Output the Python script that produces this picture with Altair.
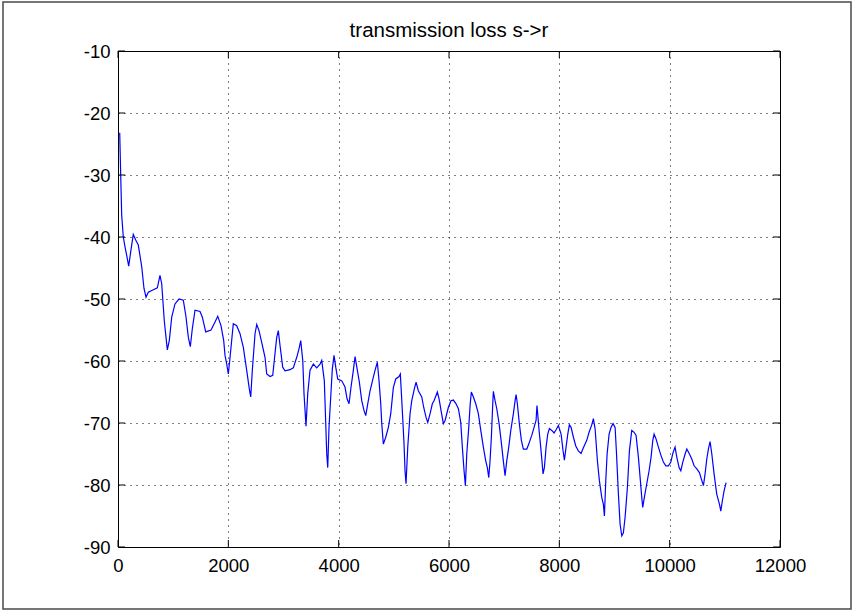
import altair as alt
import pandas as pd

distance = [31,49,67,96,127,163,194,230,277,321,
            368,430,471,508,549,640,713,761,792,839,
            894,930,974,1033,1106,1184,1233,1275,1311,1347,
            1396,1487,1528,1590,1686,1759,1808,1867,1916,1940,
            1971,2000,2031,2090,2152,2212,2272,2333,2380,2406,
            2435,2484,2515,2556,2605,2665,2696,2756,2805,2846,
            2877,2906,2937,2986,3028,3118,3178,3240,3282,3312,
            3349,3372,3408,3439,3481,3541,3602,3662,3693,3740,
            3784,3802,3825,3856,3885,3916,3947,3983,4056,4115,
            4152,4188,4224,4266,4297,4339,4375,4418,4460,4491,
            4527,4569,4629,4659,4701,4732,4763,4781,4810,4853,
            4901,4944,4991,5035,5095,5118,5154,5185,5203,5221,
            5252,5294,5325,5372,5403,5444,5506,5542,5584,5615,
            5657,5698,5729,5789,5820,5856,5898,5929,5988,6037,
            6079,6128,6170,6213,6242,6273,6297,6322,6358,6382,
            6405,6442,6485,6532,6576,6623,6666,6695,6721,6744,
            6768,6793,6804,6835,6866,6908,6944,6985,7016,7047,
            7083,7120,7167,7198,7216,7239,7275,7312,7348,7410,
            7446,7500,7542,7578,7595,7633,7669,7705,7729,7760,
            7790,7820,7863,7905,7941,7983,8032,8068,8092,8122,
            8153,8182,8213,8255,8298,8345,8394,8436,8497,8539,
            8588,8617,8648,8690,8726,8769,8798,8817,8842,8866,
            8902,8938,8974,9011,9034,9071,9101,9132,9161,9192,
            9234,9270,9313,9355,9391,9433,9469,9494,9512,9541,
            9585,9627,9663,9694,9718,9754,9796,9845,9886,9930,
            9977,10021,10057,10098,10129,10171,10202,10238,10280,10311,
            10358,10401,10443,10492,10539,10583,10612,10642,10673,10702,
            10733,10764,10805,10854,10902,10927,10956,10987,11023]

loss = [-23.2,-30.0,-36.5,-40.0,-41.6,-43.2,-44.7,-42.4,-39.6,-40.5,
        -41.3,-44.8,-48.3,-49.7,-48.9,-48.5,-48.2,-46.2,-47.5,-53.5,
        -58.2,-56.7,-52.9,-50.8,-50.0,-50.2,-52.9,-56.2,-57.7,-54.8,
        -51.8,-52.0,-52.9,-55.3,-55.0,-53.7,-52.8,-54.3,-56.7,-59.1,
        -60.5,-62.1,-59.4,-54.0,-54.3,-55.6,-57.8,-61.5,-64.5,-65.8,
        -61.5,-55.6,-54.1,-55.1,-57.0,-59.4,-62.1,-62.5,-62.3,-58.8,
        -56.2,-55.1,-57.5,-61.0,-61.6,-61.4,-61.1,-59.4,-58.0,-56.7,
        -59.9,-65.3,-70.5,-65.3,-61.5,-60.5,-61.1,-60.5,-59.9,-63.2,
        -75.0,-77.2,-70.7,-65.8,-61.3,-59.1,-61.0,-62.9,-63.2,-64.2,
        -66.1,-66.9,-64.2,-61.5,-59.3,-61.5,-63.4,-66.4,-68.0,-68.8,
        -66.9,-64.8,-62.6,-61.5,-60.2,-63.2,-66.9,-70.1,-73.4,-72.3,
        -70.7,-68.5,-64.3,-62.9,-62.5,-62.1,-68.0,-73.4,-77.7,-79.8,
        -73.9,-68.5,-66.4,-64.5,-63.4,-64.8,-65.8,-67.5,-69.1,-69.9,
        -68.5,-66.9,-66.4,-65.0,-66.1,-68.0,-70.1,-69.6,-67.5,-66.4,
        -66.3,-66.9,-67.7,-69.9,-73.9,-77.7,-80.1,-75.0,-70.7,-67.2,
        -65.0,-65.8,-66.9,-68.5,-71.2,-73.9,-76.1,-77.2,-78.8,-76.1,
        -72.3,-66.9,-64.9,-66.4,-67.7,-70.1,-72.8,-76.1,-78.5,-76.1,
        -73.9,-71.2,-68.5,-66.4,-65.4,-66.9,-70.1,-72.8,-74.2,-74.2,
        -73.4,-72.0,-70.7,-69.6,-67.2,-71.2,-74.5,-78.2,-77.2,-73.9,
        -71.8,-70.9,-71.2,-71.6,-71.1,-70.4,-71.8,-74.5,-76.0,-73.9,
        -71.8,-70.3,-70.7,-72.3,-73.7,-74.5,-74.9,-74.0,-72.8,-71.5,
        -70.3,-69.3,-70.9,-76.1,-79.3,-82.0,-83.1,-85.0,-79.3,-75.0,
        -71.8,-70.7,-70.1,-70.7,-74.5,-81.5,-86.3,-88.2,-87.7,-85.2,
        -80.4,-74.5,-71.2,-71.5,-72.0,-75.5,-79.3,-82.0,-83.6,-82.0,
        -79.8,-77.7,-75.5,-72.8,-71.8,-72.6,-73.9,-75.3,-76.3,-76.9,
        -76.9,-76.3,-74.9,-73.9,-75.5,-77.2,-77.7,-76.3,-75.0,-74.2,
        -75.0,-75.8,-76.9,-77.4,-78.0,-79.3,-80.1,-78.2,-75.8,-74.2,
        -73.0,-75.0,-78.2,-81.5,-83.1,-84.2,-82.5,-80.9,-79.6]

x_ticks = [0, 2000, 4000, 6000, 8000, 10000, 12000]
y_ticks = [-90, -80, -70, -60, -50, -40, -30, -20, -10]
title_text = "transmission loss s->r"

W, H = 662, 496
LEFT, TOP = 118, 51
FONT = "Liberation Sans"
TICK = 7

df = pd.DataFrame({"distance": distance, "loss": loss})
tx = pd.DataFrame({"t": x_ticks})
ty = pd.DataFrame({"t": y_ticks})

xs = alt.Scale(domain=[0, 12000], nice=False, zero=False)
ys = alt.Scale(domain=[-90, -10], nice=False, zero=False)

x_axis = alt.Axis(values=x_ticks, labelExpr="'' + datum.value", grid=True,
                  gridColor="black", gridDash=[1, 5], gridWidth=1, gridOpacity=1,
                  tickSize=0, domain=False, labelFontSize=18.5, labelFont=FONT,
                  labelColor="black", labelPadding=9, labelFlush=False, title=None)
y_axis = alt.Axis(values=y_ticks, labelExpr="'' + datum.value", grid=True,
                  gridColor="black", gridDash=[1, 5], gridWidth=1, gridOpacity=1,
                  tickSize=0, domain=False, labelFontSize=18.5, labelFont=FONT,
                  labelColor="black", labelPadding=8, labelFlush=False, title=None)

line = alt.Chart(df).mark_line(color="#0000ff", strokeWidth=1.2).encode(
    x=alt.X("distance:Q", scale=xs, axis=x_axis),
    y=alt.Y("loss:Q", scale=ys, axis=y_axis),
)

tick_style = dict(color="black", strokeWidth=1)
xb = alt.Chart(tx).mark_rule(**tick_style).encode(
    x=alt.X("t:Q", scale=xs, axis=x_axis), y=alt.value(H), y2=alt.value(H - TICK))
xt = alt.Chart(tx).mark_rule(**tick_style).encode(
    x=alt.X("t:Q", scale=xs, axis=x_axis), y=alt.value(0), y2=alt.value(TICK))
yl = alt.Chart(ty).mark_rule(**tick_style).encode(
    y=alt.Y("t:Q", scale=ys, axis=y_axis), x=alt.value(0), x2=alt.value(TICK))
yr = alt.Chart(ty).mark_rule(**tick_style).encode(
    y=alt.Y("t:Q", scale=ys, axis=y_axis), x=alt.value(W), x2=alt.value(W - TICK))

one = pd.DataFrame({"f": [0]})
frame = alt.Chart(one).mark_rect(
    fill="transparent", stroke="#4a4a4a", strokeWidth=1.5).encode(
    x=alt.value(3 - LEFT), x2=alt.value(851 - LEFT),
    y=alt.value(2 - TOP), y2=alt.value(609 - TOP))

title = alt.Chart(one).mark_text(
    text=title_text, font=FONT, fontSize=20.5, color="black",
    align="center", baseline="alphabetic").encode(
    x=alt.value(W / 2), y=alt.value(-14))

chart = alt.layer(line, xb, xt, yl, yr, frame, title).properties(
    width=W, height=H,
    autosize=alt.AutoSizeParams(type="none"),
    padding={"left": LEFT, "top": TOP, "right": 854 - LEFT - W, "bottom": 614 - TOP - H},
    background="white",
).configure_view(stroke="black", strokeWidth=1)

chart.save("out.html", embed_options={"renderer": "svg", "actions": False})
